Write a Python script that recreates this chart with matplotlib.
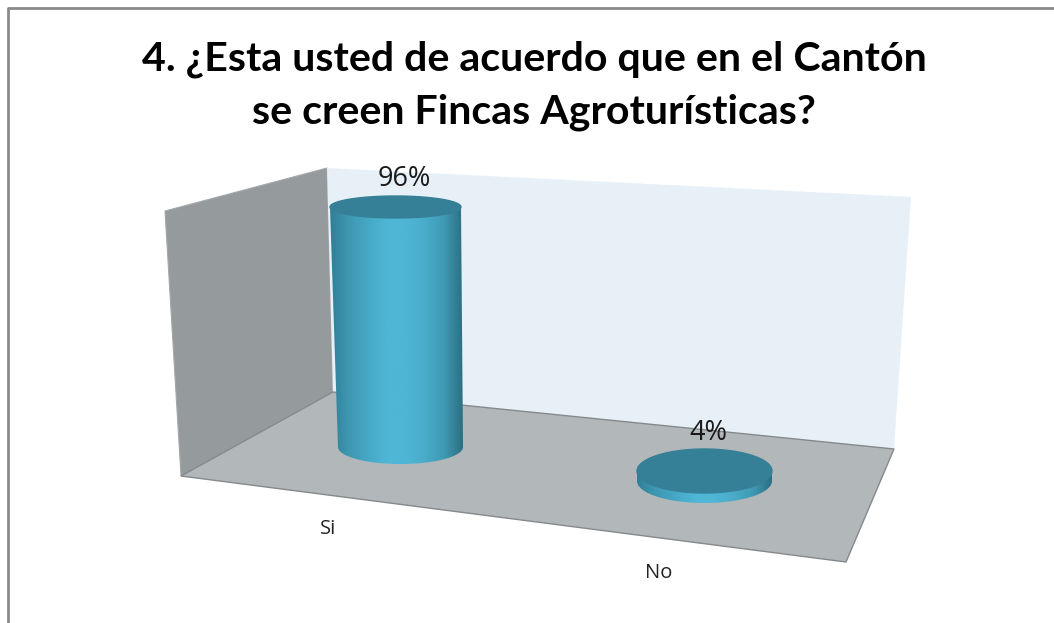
import numpy as np
import matplotlib
matplotlib.use("Agg")
import matplotlib.pyplot as plt
from matplotlib.colors import LinearSegmentedColormap
from matplotlib.patches import Polygon, PathPatch
from matplotlib.path import Path

titulo = "4. ¿Esta usted de acuerdo que en el Cantón\nse creen Fincas Agroturísticas?"
categorias = ["Si", "No"]
valores = [96, 4]
etiquetas = ["96%", "4%"]

plt.rcParams["font.family"] = ["Open Sans", "DejaVu Sans"]

fig = plt.figure(figsize=(10.54, 6.23), dpi=100)
ax = fig.add_axes([0, 0, 1, 1])
ax.set_xlim(0, 1054)
ax.set_ylim(623, 0)
ax.axis("off")

# marco del grafico
ax.plot([8, 8, 1054], [623, 8, 8], color="#8a8a8a", lw=2)

# paredes y piso en perspectiva
ax.add_patch(Polygon([(165, 211), (327, 168), (333, 392), (181, 476)], fc="#959a9c", ec="#a5a9ab", lw=0.8))
ax.add_patch(Polygon([(327, 168), (911, 197), (894, 449), (333, 392)], fc="#e8f0f7", ec="none"))
ax.add_patch(Polygon([(181, 476), (333, 392), (894, 449), (846, 562)], fc="#b2b7ba", ec="#85898b", lw=1))

cmap = LinearSegmentedColormap.from_list(
    "cilindro", ["#2f7f96", "#3f98b3", "#46a8c5", "#4fb6d6", "#4fb6d6", "#4aacc9", "#3f9ab4", "#2b6f82"]
)
escala = 2.5  # px por unidad


def elipse(cx, cy, rx, ry):
    t = np.linspace(0, 2 * np.pi, 80)
    return cx + rx * np.cos(t), cy + ry * np.sin(t)


def cilindro(cx_base, cy_base, rx_base, ry_base, cx_top, rx_top, ry_top, valor):
    cy_top = cy_base - valor * escala
    t = np.linspace(0, np.pi, 60)
    xs = np.r_[cx_top + rx_top, cx_base + rx_base * np.cos(t), cx_top - rx_top]
    ys = np.r_[cy_top, cy_base + ry_base * np.sin(t), cy_top]
    lado = PathPatch(Path(np.c_[xs, ys]), fc="none", ec="none")
    ax.add_patch(lado)
    izq = min(cx_top - rx_top, cx_base - rx_base)
    der = max(cx_top + rx_top, cx_base + rx_base)
    grad = np.linspace(0, 1, 256).reshape(1, -1)
    im = ax.imshow(grad, cmap=cmap, aspect="auto", extent=[izq, der, cy_base + ry_base, cy_top - 1], zorder=3)
    im.set_clip_path(lado)
    ex, ey = elipse(cx_top, cy_top, rx_top, ry_top)
    ax.fill(ex, ey, color="#358096", zorder=4)
    return cy_top


# Si
y_si = cilindro(400.5, 447, 62.5, 17, 395.5, 65.5, 11, valores[0])
# No
y_no = cilindro(704.5, 481, 67.5, 22, 704.5, 67.5, 22, valores[1])

ax.set_ylim(623, 0)
ax.set_xlim(0, 1054)

ax.text(404, 179, etiquetas[0], ha="center", va="center", fontsize=19.5, color="#1a1a1a")
ax.text(708, 433, etiquetas[1], ha="center", va="center", fontsize=19.5, color="#1a1a1a")
ax.text(328, 529.5, categorias[0], ha="center", va="center", fontsize=14.5, color="#222222")
ax.text(659, 572.5, categorias[1], ha="center", va="center", fontsize=14.5, color="#222222")

ax.text(534, 86, titulo, ha="center", va="center", fontsize=29.6, fontweight="bold",
        family=["Lato", "DejaVu Sans"], color="black", linespacing=1.52)

fig.savefig("out.png", dpi=100)
